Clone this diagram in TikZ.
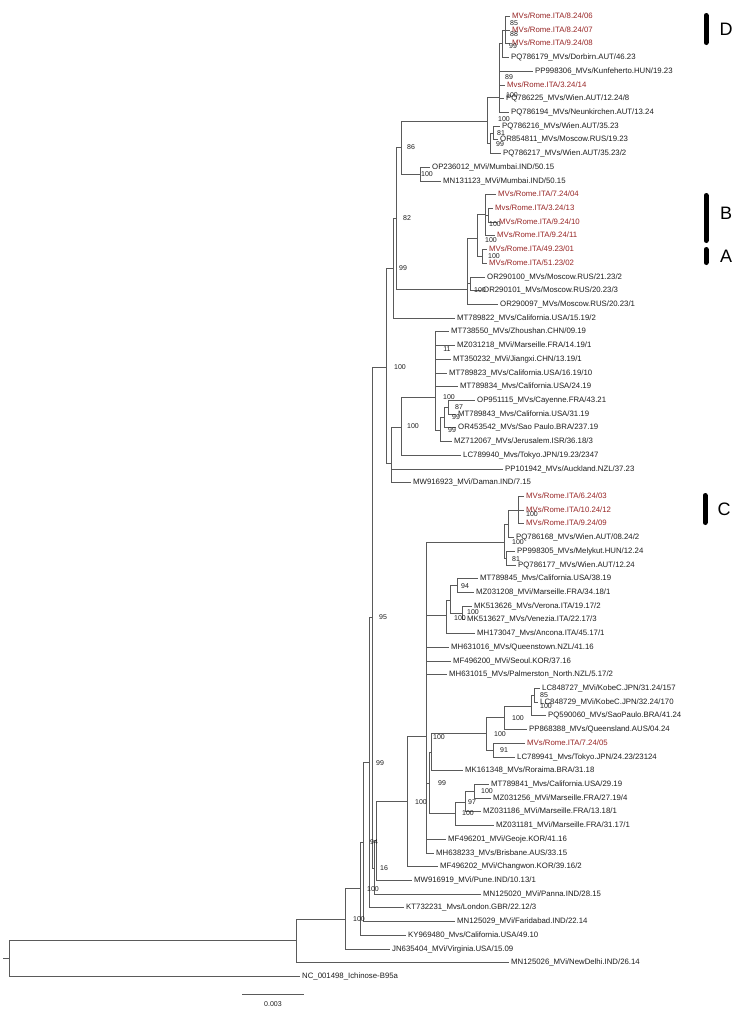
\documentclass[tikz,border=0pt]{standalone}
\usepackage{fontspec}
\setmainfont{Liberation Sans}
\definecolor{romered}{RGB}{152,38,38}
\definecolor{brc}{RGB}{90,90,90}
\definecolor{txt}{RGB}{30,30,30}
\tikzset{
  br/.style={draw=brc, line width=0.75pt},
  leaf/.style={anchor=west, xshift=-2.5pt, inner xsep=2.5pt, inner ysep=0pt,
    font=\fontsize{7.8}{8}\selectfont, text height=5.6pt, text depth=0pt, text=txt},
  rleaf/.style={leaf, text=romered},
  bs/.style={inner sep=0pt, font=\fontsize{7}{8}\selectfont, text height=5pt, text depth=0pt, text=txt},
  cbar/.style={line width=5pt, line cap=round, black},
  clab/.style={inner sep=0pt, font=\fontsize{18}{18}\selectfont}
}
\begin{document}
\begin{tikzpicture}[x=1pt,y=-1pt]
\useasboundingbox[fill=white] (0,0) rectangle (736,1015);

% ---------- leaves ----------
\node[rleaf] (L1) at (512,16) {MVs/Rome.ITA/8.24/06};
\node[rleaf] (L2) at (512,30) {MVs/Rome.ITA/8.24/07};
\node[rleaf] (L3) at (512,43) {MVs/Rome.ITA/9.24/08};
\node[leaf] (L4) at (511,57) {PQ786179\_MVs/Dorbirn.AUT/46.23};
\node[leaf] (L5) at (535,71) {PP998306\_MVs/Kunfeherto.HUN/19.23};
\node[rleaf] (L6) at (507,85) {Mvs/Rome.ITA/3.24/14};
\node[leaf] (L7) at (506,98) {PQ786225\_MVs/Wien.AUT/12.24/8};
\node[leaf] (L8) at (511,112) {PQ786194\_MVs/Neunkirchen.AUT/13.24};
\node[leaf] (L9) at (502,126) {PQ786216\_MVs/Wien.AUT/35.23};
\node[leaf] (L10) at (500,139) {OR854811\_MVs/Moscow.RUS/19.23};
\node[leaf] (L11) at (503,153) {PQ786217\_MVs/Wien.AUT/35.23/2};
\node[leaf] (L12) at (432,167) {OP236012\_MVi/Mumbai.IND/50.15};
\node[leaf] (L13) at (443,181) {MN131123\_MVi/Mumbai.IND/50.15};
\node[rleaf] (L14) at (498,194) {MVs/Rome.ITA/7.24/04};
\node[rleaf] (L15) at (495,208) {Mvs/Rome.ITA/3.24/13};
\node[rleaf] (L16) at (499,222) {MVs/Rome.ITA/9.24/10};
\node[rleaf] (L17) at (497,235) {MVs/Rome.ITA/9.24/11};
\node[rleaf] (L18) at (489,249) {MVs/Rome.ITA/49.23/01};
\node[rleaf] (L19) at (489,263) {MVs/Rome.ITA/51.23/02};
\node[leaf] (L20) at (487,277) {OR290100\_MVs/Moscow.RUS/21.23/2};
\node[leaf] (L21) at (483,290) {OR290101\_MVs/Moscow.RUS/20.23/3};
\node[leaf] (L22) at (500,304) {OR290097\_MVs/Moscow.RUS/20.23/1};
\node[leaf] (L23) at (457,318) {MT789822\_MVs/California.USA/15.19/2};
\node[leaf] (L24) at (451,331) {MT738550\_MVs/Zhoushan.CHN/09.19};
\node[leaf] (L25) at (457,345) {MZ031218\_MVi/Marseille.FRA/14.19/1};
\node[leaf] (L26) at (453,359) {MT350232\_MVi/Jiangxi.CHN/13.19/1};
\node[leaf] (L27) at (449,373) {MT789823\_MVs/California.USA/16.19/10};
\node[leaf] (L28) at (460,386) {MT789834\_Mvs/California.USA/24.19};
\node[leaf] (L29) at (477,400) {OP951115\_MVs/Cayenne.FRA/43.21};
\node[leaf] (L30) at (458,414) {MT789843\_Mvs/California.USA/31.19};
\node[leaf] (L31) at (458,427) {OR453542\_MVs/Sao Paulo.BRA/237.19};
\node[leaf] (L32) at (454,441) {MZ712067\_MVs/Jerusalem.ISR/36.18/3};
\node[leaf] (L33) at (463,455) {LC789940\_Mvs/Tokyo.JPN/19.23/2347};
\node[leaf] (L34) at (505,469) {PP101942\_MVs/Auckland.NZL/37.23};
\node[leaf] (L35) at (413,482) {MW916923\_MVi/Daman.IND/7.15};
\node[rleaf] (L36) at (526,496) {MVs/Rome.ITA/6.24/03};
\node[rleaf] (L37) at (526,510) {MVs/Rome.ITA/10.24/12};
\node[rleaf] (L38) at (526,523) {MVs/Rome.ITA/9.24/09};
\node[leaf] (L39) at (516,537) {PQ786168\_MVs/Wien.AUT/08.24/2};
\node[leaf] (L40) at (517,551) {PP998305\_MVs/Melykut.HUN/12.24};
\node[leaf] (L41) at (518,565) {PQ786177\_MVs/Wien.AUT/12.24};
\node[leaf] (L42) at (480,578) {MT789845\_Mvs/California.USA/38.19};
\node[leaf] (L43) at (476,592) {MZ031208\_MVi/Marseille.FRA/34.18/1};
\node[leaf] (L44) at (474,606) {MK513626\_MVs/Verona.ITA/19.17/2};
\node[leaf] (L45) at (467,619) {MK513627\_MVs/Venezia.ITA/22.17/3};
\node[leaf] (L46) at (477,633) {MH173047\_Mvs/Ancona.ITA/45.17/1};
\node[leaf] (L47) at (451,647) {MH631016\_MVs/Queenstown.NZL/41.16};
\node[leaf] (L48) at (453,661) {MF496200\_MVi/Seoul.KOR/37.16};
\node[leaf] (L49) at (449,674) {MH631015\_MVs/Palmerston\_North.NZL/5.17/2};
\node[leaf] (L50) at (542,688) {LC848727\_MVi/KobeC.JPN/31.24/157};
\node[leaf] (L51) at (540,702) {LC848729\_MVi/KobeC.JPN/32.24/170};
\node[leaf] (L52) at (548,715) {PQ590060\_MVs/SaoPaulo.BRA/41.24};
\node[leaf] (L53) at (529,729) {PP868388\_MVs/Queensland.AUS/04.24};
\node[rleaf] (L54) at (527,743) {MVs/Rome.ITA/7.24/05};
\node[leaf] (L55) at (517,757) {LC789941\_Mvs/Tokyo.JPN/24.23/23124};
\node[leaf] (L56) at (465,770) {MK161348\_MVs/Roraima.BRA/31.18};
\node[leaf] (L57) at (491,784) {MT789841\_Mvs/California.USA/29.19};
\node[leaf] (L58) at (493,798) {MZ031256\_MVi/Marseille.FRA/27.19/4};
\node[leaf] (L59) at (483,811) {MZ031186\_MVi/Marseille.FRA/13.18/1};
\node[leaf] (L60) at (496,825) {MZ031181\_MVi/Marseille.FRA/31.17/1};
\node[leaf] (L61) at (448,839) {MF496201\_MVi/Geoje.KOR/41.16};
\node[leaf] (L62) at (436,853) {MH638233\_MVs/Brisbane.AUS/33.15};
\node[leaf] (L63) at (440,866) {MF496202\_MVi/Changwon.KOR/39.16/2};
\node[leaf] (L64) at (414,880) {MW916919\_MVi/Pune.IND/10.13/1};
\node[leaf] (L65) at (483,894) {MN125020\_MVi/Panna.IND/28.15};
\node[leaf] (L66) at (406,907) {KT732231\_Mvs/London.GBR/22.12/3};
\node[leaf] (L67) at (457,921) {MN125029\_MVi/Faridabad.IND/22.14};
\node[leaf] (L68) at (408,935) {KY969480\_Mvs/California.USA/49.10};
\node[leaf] (L69) at (392,949) {JN635404\_MVi/Virginia.USA/15.09};
\node[leaf] (L70) at (511,962) {MN125026\_MVi/NewDelhi.IND/26.14};
\node[leaf] (L71) at (302,976) {NC\_001498\_Ichinose-B95a};

% ---------- internal nodes ----------
\coordinate (stub) at (3,958);
\coordinate (R0) at (9,958);
\coordinate (R1) at (296,940);
\coordinate (R2) at (345,919);
\coordinate (R3) at (360,888);
\coordinate (R4) at (363,842);
\coordinate (R5) at (369,762);
\coordinate (R6) at (372,617);
\coordinate (R6b) at (374,868);
\coordinate (R7) at (376,840);
\coordinate (N407) at (407,801);
\coordinate (N426) at (426,736);
\coordinate (N429) at (429,783);
\coordinate (N431) at (431,752);
\coordinate (N486) at (486,733);
\coordinate (LCa) at (504,717);
\coordinate (LCb) at (531,706);
\coordinate (LCc) at (534,695);
\coordinate (NR) at (493,750);
\coordinate (N455) at (455,813);
\coordinate (N465) at (465,802);
\coordinate (N474) at (474,791);
\coordinate (N504) at (504,542);
\coordinate (N508) at (508,524);
\coordinate (N518) at (518,510);
\coordinate (N506) at (506,558);
\coordinate (N446) at (446,615);
\coordinate (N450) at (450,600);
\coordinate (N457) at (457,585);
\coordinate (N462) at (462,613);
\coordinate (N386) at (386,367);
\coordinate (NB) at (393,268);
\coordinate (NA) at (396,218);
\coordinate (N86) at (401,147);
\coordinate (Mum) at (420,174);
\coordinate (D0) at (487,121);
\coordinate (D1) at (499,97);
\coordinate (D4) at (502,43);
\coordinate (D4a) at (505,30);
\coordinate (D2) at (490,143);
\coordinate (D3) at (493,133);
\coordinate (M) at (467,289);
\coordinate (M2) at (470,283);
\coordinate (NAB) at (477,238);
\coordinate (NBn) at (485,214);
\coordinate (NB1) at (488,215);
\coordinate (NAn) at (482,256);
\coordinate (N391) at (391,463);
\coordinate (N400) at (401,427);
\coordinate (N435) at (435,397);
\coordinate (S3) at (440,430);
\coordinate (S2) at (444,417);
\coordinate (S1) at (448,407);

% ---------- branches ----------
\draw[br] (stub) -- (R0);
\draw[br] (R0) |- (R1); \draw[br] (R0) |- (L71.west);
\draw[br] (R1) |- (R2); \draw[br] (R1) |- (L70.west);
\draw[br] (R2) |- (R3); \draw[br] (R2) |- (L69.west);
\draw[br] (R3) |- (R4); \draw[br] (R3) |- (L68.west);
\draw[br] (R4) |- (R5); \draw[br] (R4) |- (L67.west);
\draw[br] (R5) |- (R6); \draw[br] (R5) |- (L66.west);
\draw[br] (R6) |- (N386); \draw[br] (R6) |- (R6b);
\draw[br] (R6b) |- (R7); \draw[br] (R6b) |- (L65.west);
\draw[br] (R7) |- (N407); \draw[br] (R7) |- (L64.west);
\draw[br] (N407) |- (N426); \draw[br] (N407) |- (L63.west);
\foreach \c in {N504,N446,L47.west,L48.west,L49.west,N429,L61.west,L62.west}
  \draw[br] (N426) |- (\c);
\draw[br] (N429) |- (N431); \draw[br] (N429) |- (N455);
\draw[br] (N431) |- (N486); \draw[br] (N431) |- (L56.west);
\draw[br] (N486) |- (LCa); \draw[br] (N486) |- (NR);
\draw[br] (LCa) |- (LCb); \draw[br] (LCa) |- (L53.west);
\draw[br] (LCb) |- (LCc); \draw[br] (LCb) |- (L52.west);
\draw[br] (LCc) |- (L50.west); \draw[br] (LCc) |- (L51.west);
\draw[br] (NR) |- (L54.west); \draw[br] (NR) |- (L55.west);
\draw[br] (N455) |- (N465); \draw[br] (N455) |- (L60.west);
\draw[br] (N465) |- (N474); \draw[br] (N465) |- (L59.west);
\draw[br] (N474) |- (L57.west); \draw[br] (N474) |- (L58.west);
\draw[br] (N504) |- (N508); \draw[br] (N504) |- (N506);
\draw[br] (N508) |- (N518); \draw[br] (N508) |- (L39.west);
\foreach \c in {L36,L37,L38} \draw[br] (N518) |- (\c.west);
\draw[br] (N506) |- (L40.west); \draw[br] (N506) |- (L41.west);
\draw[br] (N446) |- (N450); \draw[br] (N446) |- (L46.west);
\draw[br] (N450) |- (N457); \draw[br] (N450) |- (N462);
\draw[br] (N457) |- (L42.west); \draw[br] (N457) |- (L43.west);
\draw[br] (N462) |- (L44.west); \draw[br] (N462) |- (L45.west);
\draw[br] (N386) |- (NB); \draw[br] (N386) |- (N391);
\draw[br] (NB) |- (NA); \draw[br] (NB) |- (L23.west);
\draw[br] (NA) |- (N86); \draw[br] (NA) |- (M);
\draw[br] (N86) |- (D0); \draw[br] (N86) |- (Mum);
\draw[br] (Mum) |- (L12.west); \draw[br] (Mum) |- (L13.west);
\draw[br] (D0) |- (D1); \draw[br] (D0) |- (D2);
\draw[br] (D1) |- (D4);
\foreach \c in {L5,L6,L7,L8} \draw[br] (D1) |- (\c.west);
\draw[br] (D4) |- (D4a); \draw[br] (D4) |- (L4.west);
\foreach \c in {L1,L2,L3} \draw[br] (D4a) |- (\c.west);
\draw[br] (D2) |- (D3); \draw[br] (D2) |- (L11.west);
\draw[br] (D3) |- (L9.west); \draw[br] (D3) |- (L10.west);
\draw[br] (M) |- (NAB); \draw[br] (M) |- (M2); \draw[br] (M) |- (L22.west);
\draw[br] (M2) |- (L20.west); \draw[br] (M2) |- (L21.west);
\draw[br] (NAB) |- (NBn); \draw[br] (NAB) |- (NAn);
\draw[br] (NBn) |- (L14.west); \draw[br] (NBn) |- (NB1); \draw[br] (NBn) |- (L17.west);
\draw[br] (NB1) |- (L15.west); \draw[br] (NB1) |- (L16.west);
\draw[br] (NAn) |- (L18.west); \draw[br] (NAn) |- (L19.west);
\draw[br] (N391) |- (N400); \draw[br] (N391) |- (L34.west); \draw[br] (N391) |- (L35.west);
\draw[br] (N400) |- (N435); \draw[br] (N400) |- (L33.west);
\foreach \c in {L24,L25,L26,L27,L28} \draw[br] (N435) |- (\c.west);
\draw[br] (N435) |- (S3);
\draw[br] (S3) |- (S2); \draw[br] (S3) |- (L32.west);
\draw[br] (S2) |- (S1); \draw[br] (S2) |- (L31.west);
\draw[br] (S1) |- (L29.west); \draw[br] (S1) |- (L30.west);

% ---------- bootstrap values ----------
\node[bs] (b1) at (514,23) {85};
\node[bs] (b2) at (514,34) {88};
\node[bs] (b3) at (513,46) {99};
\node[bs] (b4) at (509,77) {89};
\node[bs] (b5) at (512,95) {100};
\node[bs] (b6) at (504,119) {100};
\node[bs] (b7) at (501,133) {81};
\node[bs] (b8) at (500,144) {99};
\node[bs] (b9) at (411,147) {86};
\node[bs] (b10) at (427,174) {100};
\node[bs] (b11) at (407,218) {82};
\node[bs] (b12) at (495,224) {100};
\node[bs] (b13) at (491,240) {100};
\node[bs] (b14) at (494,256) {100};
\node[bs] (b15) at (403,268) {99};
\node[bs] (b16) at (480,290) {100};
\node[bs] (b17) at (447,349) {11};
\node[bs] (b18) at (400,367) {100};
\node[bs] (b19) at (449,397) {100};
\node[bs] (b20) at (459,407) {87};
\node[bs] (b21) at (456,417) {99};
\node[bs] (b22) at (452,430) {99};
\node[bs] (b23) at (413,426) {100};
\node[bs] (b24) at (532,514) {100};
\node[bs] (b25) at (518,542) {100};
\node[bs] (b26) at (516,559) {81};
\node[bs] (b27) at (465,586) {94};
\node[bs] (b28) at (473,612) {100};
\node[bs] (b29) at (460,618) {100};
\node[bs] (b30) at (383,617) {95};
\node[bs] (b31) at (544,695) {85};
\node[bs] (b32) at (546,706) {100};
\node[bs] (b33) at (518,718) {100};
\node[bs] (b34) at (500,734) {100};
\node[bs] (b35) at (439,737) {100};
\node[bs] (b36) at (504,750) {91};
\node[bs] (b37) at (380,763) {99};
\node[bs] (b38) at (442,783) {99};
\node[bs] (b39) at (487,791) {100};
\node[bs] (b40) at (472,802) {97};
\node[bs] (b41) at (421,802) {100};
\node[bs] (b42) at (468,813) {100};
\node[bs] (b43) at (374,842) {94};
\node[bs] (b44) at (384,868) {16};
\node[bs] (b45) at (373,889) {100};
\node[bs] (b46) at (359,919) {100};

% ---------- clade bars ----------
\draw[cbar] (706,15.5) -- (706,42.5);
\node[clab] (cD) at (726,29) {D};
\draw[cbar] (706,195.5) -- (706,240.5);
\node[clab] (cB) at (726,213) {B};
\draw[cbar] (706,249.5) -- (706,262.5);
\node[clab] (cA) at (726,256) {A};
\draw[cbar] (705,495.5) -- (705,522.5);
\node[clab] (cC) at (724,509) {C};

% ---------- scale bar ----------
\coordinate (sb1) at (242,994);
\coordinate (sb2) at (304,994);
\draw[br] (sb1) -- (sb2);
\node[bs] (sbl) at (273,1004) {0.003};
\end{tikzpicture}
\end{document}
